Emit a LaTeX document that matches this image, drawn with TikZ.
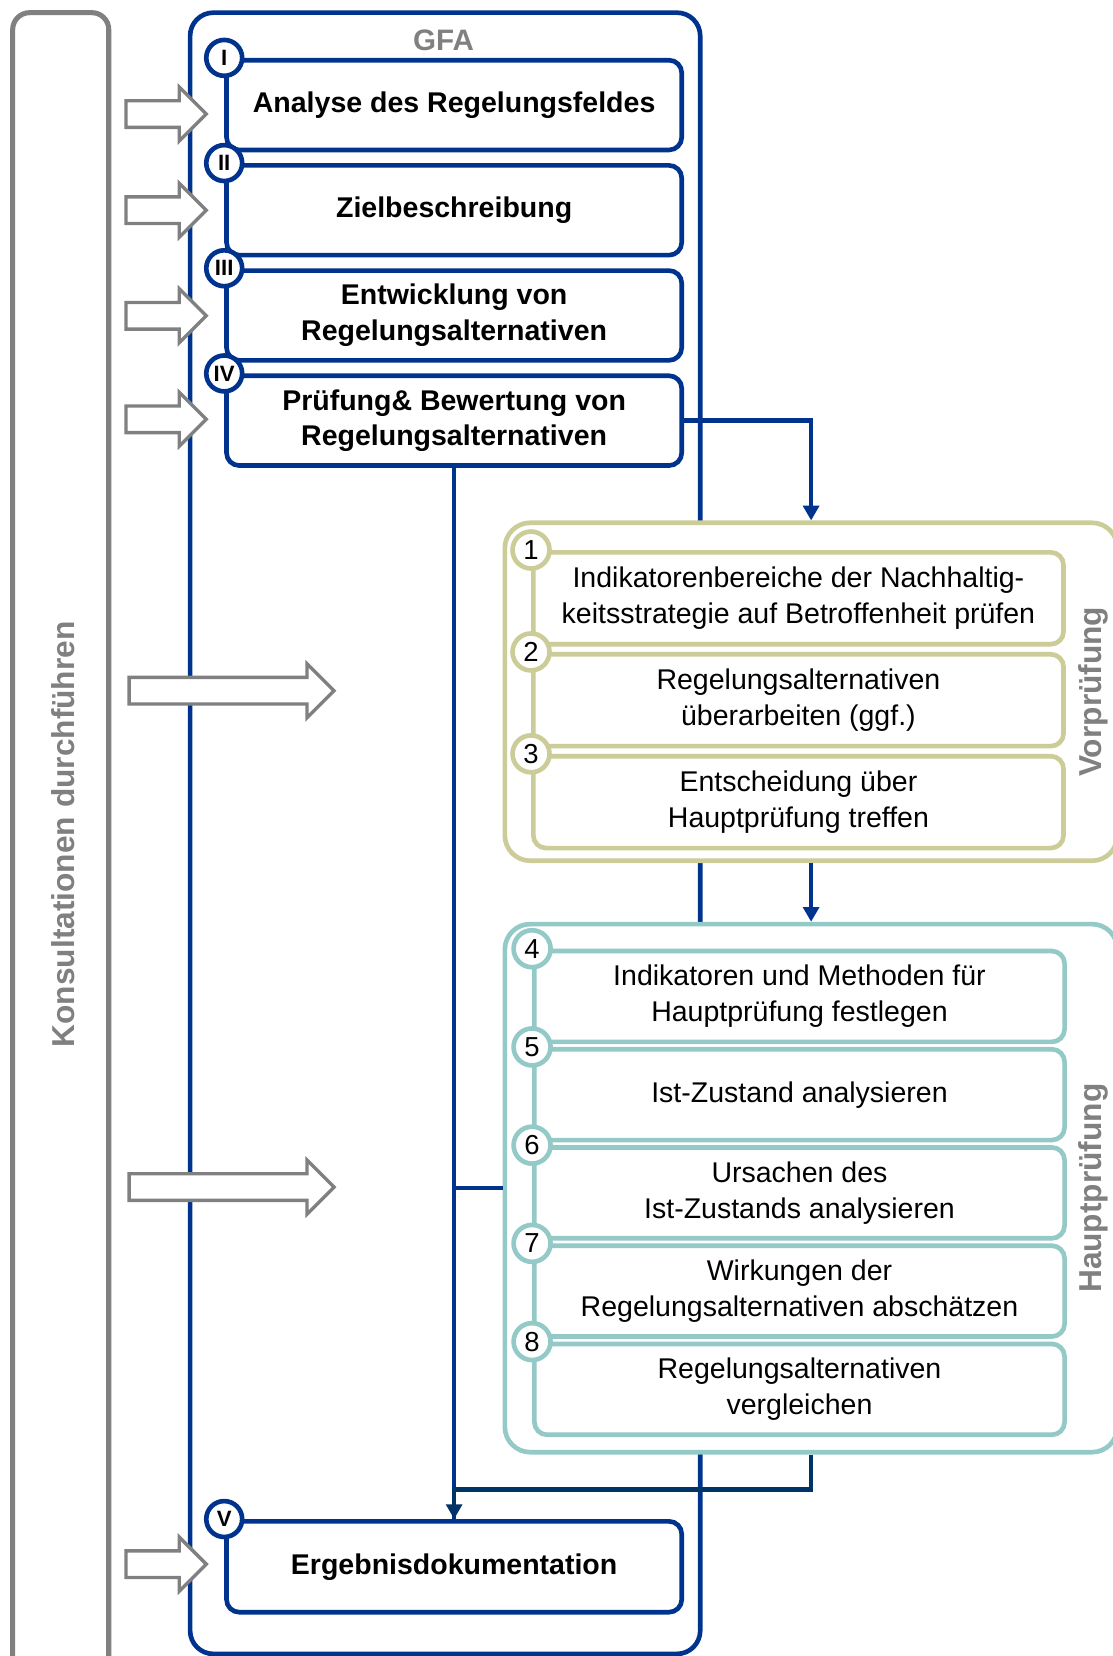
\documentclass[tikz,border=0pt]{standalone}
\usepackage{fontspec}
\setmainfont{Liberation Sans}
\usetikzlibrary{positioning,shapes.arrows,arrows.meta}

\definecolor{gfablue}{RGB}{0,51,141}
\definecolor{darknavy}{RGB}{0,51,102}
\definecolor{vorgreen}{RGB}{204,204,153}
\definecolor{hauptteal}{RGB}{147,201,198}
\definecolor{greyline}{RGB}{128,128,128}

\begin{document}
\begin{tikzpicture}[
    x=0.5pt, y=-0.5pt,
    node distance=49.8pt,
    stepbox/.style={rectangle, draw=gfablue, line width=2.2pt, fill=white, rounded corners=6pt, minimum width=215.5pt, minimum height=42.5pt, align=center, font=\fontsize{13.5pt}{17pt}\selectfont\bfseries},
    romancircle/.style={circle, draw=gfablue, line width=2.2pt, fill=white, minimum size=17pt, inner sep=0pt, font=\fontsize{10.5pt}{11pt}\selectfont\bfseries},
    vorstep/.style={stepbox, draw=vorgreen, minimum width=251pt, minimum height=43.5pt, font=\fontsize{13.5pt}{17pt}\selectfont},
    hauptstep/.style={vorstep, draw=hauptteal, minimum height=43pt},
    vorcircle/.style={romancircle, draw=vorgreen, minimum size=17.5pt, font=\fontsize{13pt}{13pt}\selectfont},
    hauptcircle/.style={vorcircle, draw=hauptteal},
    phasebox/.style={rectangle, line width=2.2pt, fill=white, rounded corners=12pt, minimum width=290pt},
    sidelabel/.style={rotate=90, text=greyline, font=\fontsize{15pt}{18pt}\selectfont\bfseries},
    hollowarrow/.style={single arrow, draw=greyline, fill=white, line width=1.6pt, inner sep=5.5pt, single arrow head extend=6.5pt},
    link/.style={line width=2.2pt, draw=gfablue},
    linkarrow/.style={link, -{Triangle[width=7.5pt,length=7pt]}}
]
\useasboundingbox (0,0) rectangle (1053,1568);

% frames
\draw[greyline, line width=2.4pt, rounded corners=8pt] (12,12) rectangle (103,1590);
\draw[gfablue, line width=2.2pt, rounded corners=11pt] (180,12) rectangle (663,1566);
\node[text=greyline, font=\fontsize{14pt}{16pt}\selectfont\bfseries] (gfa) at (420,38) {GFA};
\node[sidelabel] (kons) at (60,790) {Konsultationen durchführen};

% phase boxes
\node[phasebox, draw=vorgreen, minimum height=160pt] (vor) at (768,655) {};
\node[phasebox, draw=hauptteal, minimum height=250pt] (haupt) at (768,1125) {};
\node[sidelabel] (vorlabel) at (1035,655) {Vorprüfung};
\node[sidelabel] (hauptlabel) at (1035,1125) {Hauptprüfung};

% GFA steps
\node[stepbox] (I) at (430,99.5) {Analyse des Regelungsfeldes};
\node[stepbox, below of=I] (II) {Zielbeschreibung};
\node[stepbox, below of=II] (III) {Entwicklung von\\Regelungsalternativen};
\node[stepbox, below of=III] (IV) {Prüfung\& Bewertung von\\Regelungsalternativen};
\node[stepbox, minimum height=43pt] (V) at (430,1483.5) {Ergebnisdokumentation};

% Vorpruefung steps
\node[vorstep] (s1) at (756,566.5) {Indikatorenbereiche der Nachhaltig-\\keitsstrategie auf Betroffenheit prüfen};
\node[vorstep, below of=s1, node distance=48.25pt] (s2) {Regelungsalternativen\\überarbeiten (ggf.)};
\node[vorstep, below of=s2, node distance=48.25pt] (s3) {Entscheidung über\\Hauptprüfung treffen};

% Hauptpruefung steps
\node[hauptstep] (s4) at (757,943.5) {Indikatoren und Methoden für\\Hauptprüfung festlegen};
\node[hauptstep, below of=s4, node distance=46.5pt] (s5) {Ist-Zustand analysieren};
\node[hauptstep, below of=s5, node distance=46.5pt] (s6) {Ursachen des\\Ist-Zustands analysieren};
\node[hauptstep, below of=s6, node distance=46.5pt] (s7) {Wirkungen der\\Regelungsalternativen abschätzen};
\node[hauptstep, below of=s7, node distance=46.5pt] (s8) {Regelungsalternativen\\vergleichen};

% numbers
\node[romancircle] (cI) at (I.north west) {I};
\node[romancircle] (cII) at (II.north west) {II};
\node[romancircle] (cIII) at (III.north west) {III};
\node[romancircle] (cIV) at (IV.north west) {IV};
\node[romancircle] (cV) at (V.north west) {V};
\node[vorcircle] (c1) at (s1.north west) {1};
\node[vorcircle] (c2) at (s2.north west) {2};
\node[vorcircle] (c3) at (s3.north west) {3};
\node[hauptcircle] (c4) at (s4.north west) {4};
\node[hauptcircle] (c5) at (s5.north west) {5};
\node[hauptcircle] (c6) at (s6.north west) {6};
\node[hauptcircle] (c7) at (s7.north west) {7};
\node[hauptcircle] (c8) at (s8.north west) {8};

% connectors
\draw[linkarrow] (IV.east) -| (vor.north);
\draw[linkarrow] (vor.south) -- (haupt.north);
\draw[link] (IV.south) -- (V.north);
\draw[link] (haupt.west) -- (haupt.west -| IV.south);
\draw[linkarrow, draw=darknavy] (haupt.south) -- ++(0,-16.5pt) -| (V.north);

% consultation arrows
\node[hollowarrow, minimum height=38pt] (kI) at (151,108) {};
\node[hollowarrow, minimum height=38pt] (kII) at (151,199) {};
\node[hollowarrow, minimum height=38pt] (kIII) at (151,299) {};
\node[hollowarrow, minimum height=38pt] (kIV) at (151,397) {};
\node[hollowarrow, minimum height=97pt] (kvor) at (213,654) {};
\node[hollowarrow, minimum height=97pt] (khaupt) at (213,1124) {};
\node[hollowarrow, minimum height=38pt] (kV) at (151,1481) {};

\end{tikzpicture}
\end{document}
